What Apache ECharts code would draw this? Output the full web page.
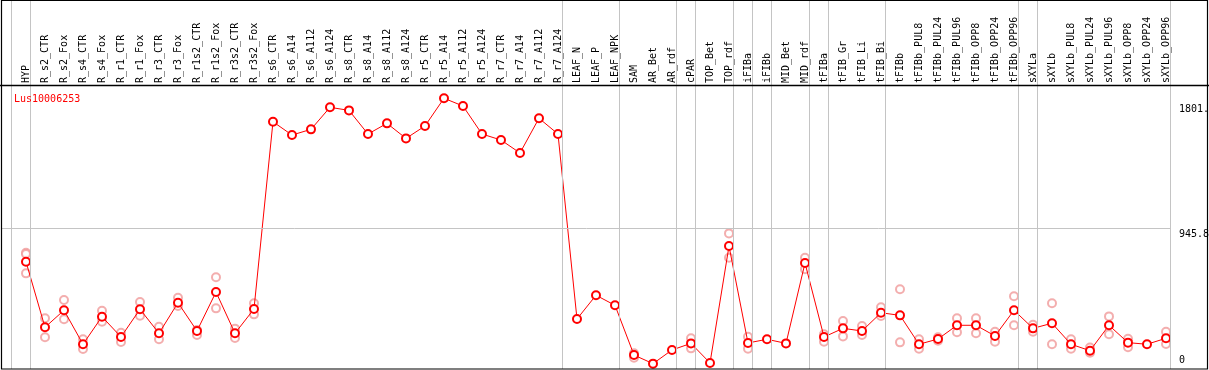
<!DOCTYPE html>
<html>
<head>
<meta charset="utf-8">
<script src="https://cdn.jsdelivr.net/npm/echarts@6/dist/echarts.min.js"></script>
<style>
html,body{margin:0;padding:0;background:#fff;}
#chart{width:1209px;height:370px;}
</style>
</head>
<body>
<div id="chart"></div>
<script>
const title = 'Lus10006253';
const categories = ['HYP','R_s2_CTR','R_s2_Fox','R_s4_CTR','R_s4_Fox','R_r1_CTR','R_r1_Fox','R_r3_CTR','R_r3_Fox','R_r1s2_CTR','R_r1s2_Fox','R_r3s2_CTR','R_r3s2_Fox','R_s6_CTR','R_s6_A14','R_s6_A112','R_s6_A124','R_s8_CTR','R_s8_A14','R_s8_A112','R_s8_A124','R_r5_CTR','R_r5_A14','R_r5_A112','R_r5_A124','R_r7_CTR','R_r7_A14','R_r7_A112','R_r7_A124','LEAF_N','LEAF_P','LEAF_NPK','SAM','AR_Bet','AR_rdf','cPAR','TOP_Bet','TOP_rdf','iFIBa','iFIBb','MID_Bet','MID_rdf','tFIBa','tFIB_Gr','tFIB_Li','tFIB_Bi','tFIBb','tFIBb_PUL8','tFIBb_PUL24','tFIBb_PUL96','tFIBb_OPP8','tFIBb_OPP24','tFIBb_OPP96','sXYLa','sXYLb','sXYLb_PUL8','sXYLb_PUL24','sXYLb_PUL96','sXYLb_OPP8','sXYLb_OPP24','sXYLb_OPP96'];
const meanValues = [715,265,382,149,338,199,389,224,434,240,507,224,391,1674,1583,1622,1773,1752,1590,1663,1560,1645,1835,1782,1590,1549,1460,1698,1590,322,485,416,75,16,110,155,21,822,158,183,155,706,199,258,240,365,347,149,185,279,279,206,382,258,293,149,105,279,160,149,190];
const repHigh = [776,327,452,183,379,228,439,269,468,247,608,256,430,null,null,null,null,null,null,null,null,null,null,null,null,null,null,null,null,null,null,null,87,null,null,190,null,909,201,null,null,742,217,308,274,402,526,183,197,327,327,235,478,283,430,183,126,340,187,null,235];
const repLow = [635,197,320,117,304,164,345,183,411,212,395,192,354,null,null,null,null,null,null,null,null,null,null,null,null,null,null,null,null,null,null,null,57,null,null,121,null,742,119,null,null,663,167,203,212,343,162,119,173,231,224,167,279,235,149,119,91,217,128,null,151];
const repExtra = [768,null,null,null,null,null,null,null,null,null,null,null,null,null,null,null,null,null,null,null,null,null,null,null,null,null,null,null,null,null,null,null,null,null,null,null,null,null,null,null,null,null,null,null,null,null,null,null,null,null,null,null,null,null,null,null,null,null,null,null,null];
// index of last category in each group (-1 = before first)
const groupEnds = [-1,0,28,31,34,35,37,38,39,41,42,45,52,53,60];
const yTicks = [0, 945.8, 1801];
const yTickLabels = ['0', '945.8', '1801.'];

const SEP_OFFSET = 0.237;
const mono = 'DejaVu Sans Mono';
const idx = categories.map((c, i) => i);
const pairs = arr => arr.map((v, i) => v == null ? null : [i, v]).filter(p => p);
const repData = pairs(repHigh).concat(pairs(repLow), pairs(repExtra));

const chart = echarts.init(document.getElementById('chart'), null, {renderer: 'canvas'});
chart.setOption({
  animation: false,
  backgroundColor: '#fff',
  title: {
    text: title, left: 9, top: 89,
    textStyle: {color: '#ff0000', fontFamily: mono, fontSize: 10, fontWeight: 'normal'}
  },
  grid: {left: 2, right: 38, top: 0, bottom: 1, containLabel: false, outerBoundsMode: 'none'},
  xAxis: {
    type: 'value', position: 'top', offset: -85,
    min: -1.263, max: 60.263,
    axisLine: {show: false}, axisTick: {show: false}, splitLine: {show: false},
    axisLabel: {
      customValues: idx, rotate: 90, margin: 2,
      fontFamily: mono, fontSize: 10, color: '#000',
      formatter: v => categories[Math.round(v)]
    }
  },
  yAxis: {
    type: 'value', position: 'right',
    min: -20.6, max: 2508.6,
    axisLine: {show: false}, axisTick: {show: false}, splitLine: {show: false},
    axisLabel: {
      customValues: yTicks, margin: 8, fontFamily: mono, fontSize: 10, color: '#000',
      lineHeight: 12, verticalAlign: 'middle', align: 'left',
      formatter: v => {
        const k = yTicks.indexOf(v);
        const t = k >= 0 ? yTickLabels[k] : String(v);
        return v === 0 ? t + '\n' : '\n' + t;
      }
    }
  },
  series: [
    {
      type: 'scatter', z: 1, data: repData,
      symbol: 'emptyCircle', symbolSize: 8,
      itemStyle: {color: '#f09a9a', borderColor: '#f09a9a', borderWidth: 1.3},
      markLine: {
        silent: true, symbol: 'none', animation: false,
        label: {show: false},
        lineStyle: {color: '#c4c4c4', width: 1, type: 'solid'},
        data: groupEnds.map(g => ({xAxis: g + SEP_OFFSET})).concat([{yAxis: yTicks[1]}])
      }
    },
    {
      type: 'line', z: 3, data: pairs(meanValues),
      symbol: 'emptyCircle', symbolSize: 8, showSymbol: true,
      lineStyle: {color: '#ff0000', width: 1},
      itemStyle: {color: '#ff0000', borderColor: '#ff0000', borderWidth: 1.6}
    }
  ],
  graphic: [
    {type: 'rect', silent: true, z: 100,
     shape: {x: 1.5, y: 0.5, width: 1206, height: 368.5},
     style: {fill: 'none', stroke: '#000', lineWidth: 1.2}},
    {type: 'line', silent: true, z: 100,
     shape: {x1: 0, y1: 85.5, x2: 1209, y2: 85.5},
     style: {stroke: '#000', lineWidth: 1.5}}
  ]
});
</script>
</body>
</html>
